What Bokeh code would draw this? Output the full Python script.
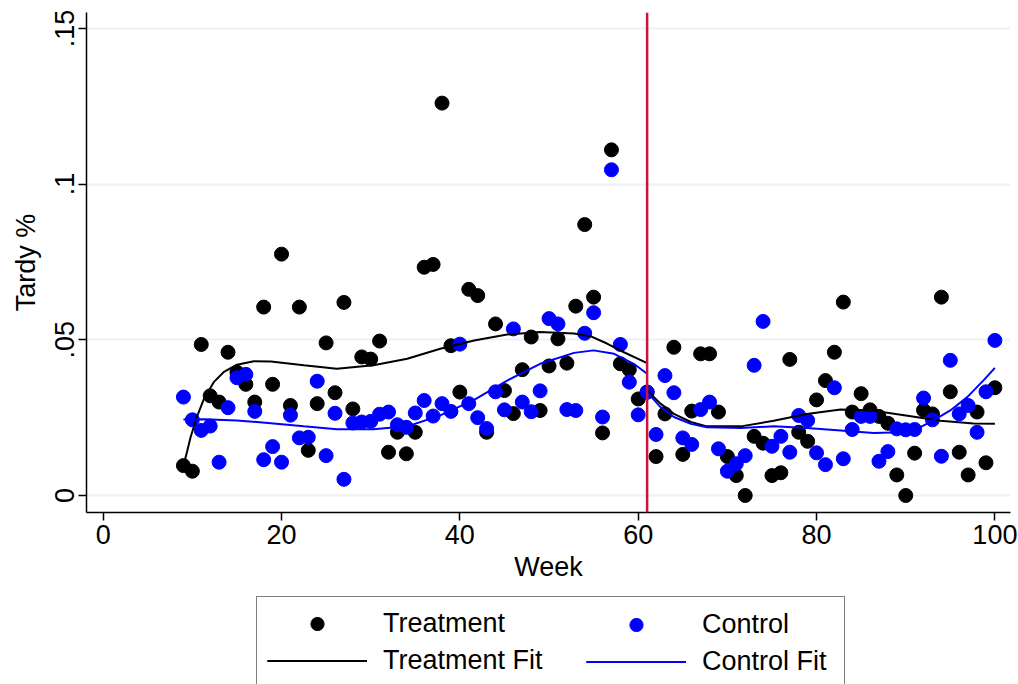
from bokeh.plotting import figure
from bokeh.layouts import column
from bokeh.models import Range1d, FixedTicker, Span, Legend, LegendItem
from bokeh.embed import file_html
from bokeh.resources import INLINE

# ---------------- data ----------------
weeks = list(range(9, 101))

treatment = [
    0.0096, 0.0078, 0.0485, 0.0320, 0.0300, 0.0460, 0.0396, 0.0357, 0.0300, 0.0605,  # 9-18
    0.0357, 0.0775, 0.0289, 0.0605, 0.0145, 0.0295, 0.0490, 0.0330, 0.0620, 0.0278,  # 19-28
    0.0445, 0.0438, 0.0496, 0.0139, 0.0203, 0.0134, 0.0203, 0.0733, 0.0742, 0.1260,  # 29-38
    0.0481, 0.0332, 0.0662, 0.0642, 0.0203, 0.0551, 0.0337, 0.0263, 0.0404, 0.0509,  # 39-48
    0.0273, 0.0416, 0.0503, 0.0425, 0.0608, 0.0870, 0.0637, 0.0201, 0.1110, 0.0423,  # 49-58
    0.0404, 0.0310, 0.0332, 0.0125, 0.0262, 0.0476, 0.0132, 0.0271, 0.0455, 0.0455,  # 59-68
    0.0268, 0.0125, 0.0064, 0.0000, 0.0190, 0.0168, 0.0064, 0.0073, 0.0437, 0.0203,  # 69-78
    0.0174, 0.0307, 0.0369, 0.0460, 0.0621, 0.0268, 0.0327, 0.0275, 0.0254, 0.0232,  # 79-88
    0.0066, 0.0000, 0.0136, 0.0274, 0.0262, 0.0637, 0.0333, 0.0139, 0.0066, 0.0268,  # 89-98
    0.0105, 0.0346,                                                                  # 99-100
]

control = [
    0.0316, 0.0243, 0.0209, 0.0223, 0.0107, 0.0282, 0.0378, 0.0389, 0.0270, 0.0115,  # 9-18
    0.0157, 0.0107, 0.0258, 0.0185, 0.0187, 0.0367, 0.0128, 0.0264, 0.0052, 0.0233,  # 19-28
    0.0236, 0.0238, 0.0261, 0.0268, 0.0227, 0.0219, 0.0265, 0.0305, 0.0255, 0.0295,  # 29-38
    0.0270, 0.0486, 0.0295, 0.0250, 0.0215, 0.0333, 0.0275, 0.0535, 0.0300, 0.0269,  # 39-48
    0.0336, 0.0568, 0.0551, 0.0276, 0.0273, 0.0521, 0.0587, 0.0252, 0.1046, 0.0485,  # 49-58
    0.0364, 0.0259, 0.0332, 0.0196, 0.0385, 0.0330, 0.0185, 0.0164, 0.0276, 0.0300,  # 59-68
    0.0150, 0.0078, 0.0102, 0.0128, 0.0418, 0.0559, 0.0158, 0.0190, 0.0139, 0.0257,  # 69-78
    0.0241, 0.0137, 0.0099, 0.0346, 0.0118, 0.0212, 0.0254, 0.0254, 0.0110, 0.0141,  # 79-88
    0.0214, 0.0211, 0.0212, 0.0313, 0.0243, 0.0126, 0.0434, 0.0262, 0.0289, 0.0203,  # 89-98
    0.0333, 0.0498,                                                                  # 99-100
]

# fitted curves, before and after the cut-off week
tf_pre_w = [9, 9.4, 9.8, 10.5, 11.3, 12.4, 13.5, 15, 16.9, 18.8, 22.5, 26.2, 30.3,
            34.1, 37.8, 41.6, 45.3, 49, 52.8, 54.7, 56.5, 58.4, 61]
tf_pre_v = [0.0096, 0.0140, 0.0187, 0.0252, 0.0310, 0.0364, 0.0396, 0.0420, 0.0431,
            0.0430, 0.0418, 0.0407, 0.0418, 0.0439, 0.0471, 0.0498, 0.0517, 0.0525,
            0.0520, 0.0511, 0.0488, 0.0460, 0.0425]
cf_pre_w = [9, 11.3, 15, 18.8, 22.5, 26.2, 30.3, 34.1, 37.8, 41.6, 45.3, 49, 52.8,
            55, 57.3, 59.5, 61]
cf_pre_v = [0.0244, 0.0245, 0.0241, 0.0232, 0.0222, 0.0213, 0.0213, 0.0222, 0.0257,
            0.0307, 0.0369, 0.0423, 0.0458, 0.0466, 0.0455, 0.0423, 0.0391]
tf_post_w = [61, 62.5, 64, 65.9, 67.7, 71.5, 75.2, 78.9, 82.7, 86.4, 90.2, 93.9, 97.6, 100]
tf_post_v = [0.0337, 0.0295, 0.0262, 0.0236, 0.0222, 0.0222, 0.0240, 0.0262, 0.0276,
             0.0272, 0.0256, 0.0240, 0.0231, 0.0230]
cf_post_w = [61, 62.5, 64, 65.9, 67.7, 71.5, 75.2, 78.9, 82.7, 86.4, 89.5, 91.6, 93.1,
             95, 96.9, 98.8, 100]
cf_post_v = [0.0332, 0.0284, 0.0252, 0.0230, 0.0219, 0.0217, 0.0222, 0.0217, 0.0209,
             0.0201, 0.0203, 0.0219, 0.0241, 0.0273, 0.0316, 0.0372, 0.0410]

cutoff_week = 61
x_ticks = [0, 20, 40, 60, 80, 100]
y_ticks = [0, 0.05, 0.1, 0.15]
y_tick_labels = ["0", ".05", ".1", ".15"]
labels = ["Treatment", "Control", "Treatment Fit", "Control Fit"]

# ---------------- styles ----------------
FONT = "Liberation Sans"
FS = "27px"
T_COLOR = "black"
C_COLOR = "blue"
MARKER_SIZE = 14
FIT_WIDTH = 2


def draw_series(fig):
    """Draw scatters and fits into a figure; returns the renderers."""
    rt = fig.scatter(weeks, treatment, size=MARKER_SIZE, color=T_COLOR)
    rc = fig.scatter(weeks, control, size=MARKER_SIZE, color=C_COLOR)
    rtf = [fig.line(tf_pre_w, tf_pre_v, line_color=T_COLOR, line_width=FIT_WIDTH),
           fig.line(tf_post_w, tf_post_v, line_color=T_COLOR, line_width=FIT_WIDTH)]
    rcf = [fig.line(cf_pre_w, cf_pre_v, line_color=C_COLOR, line_width=FIT_WIDTH),
           fig.line(cf_post_w, cf_post_v, line_color=C_COLOR, line_width=FIT_WIDTH)]
    return rt, rc, rtf, rcf


# ---------------- main plot ----------------
p = figure(width=1018, height=590, output_backend="svg", toolbar_location=None,
           x_range=Range1d(-1.87, 101.75), y_range=Range1d(-0.00546, 0.1551),
           min_border_left=86, min_border_right=8, min_border_top=12,
           min_border_bottom=78)
p.outline_line_color = None
p.xgrid.visible = False
p.ygrid.grid_line_color = "#EAF2F3"
p.ygrid.grid_line_width = 2

for ax in (p.xaxis[0], p.yaxis[0]):
    ax.axis_line_color = "black"
    ax.axis_line_width = 1.5
    ax.major_tick_line_color = "black"
    ax.major_tick_line_width = 1.5
    ax.major_tick_in = 0
    ax.major_tick_out = 8
    ax.minor_tick_line_color = None
    ax.major_label_text_font = FONT
    ax.major_label_text_font_size = FS
    ax.major_label_text_color = "black"
    ax.axis_label_text_font = FONT
    ax.axis_label_text_font_size = FS
    ax.axis_label_text_font_style = "normal"
    ax.axis_label_text_color = "black"

p.xaxis.ticker = FixedTicker(ticks=x_ticks)
p.xaxis.axis_label = "Week"
p.xaxis.major_label_standoff = 4
p.xaxis.axis_label_standoff = 5

p.yaxis.ticker = FixedTicker(ticks=y_ticks)
p.yaxis.major_label_overrides = dict(zip(y_ticks, y_tick_labels))
p.yaxis.major_label_orientation = "vertical"
p.yaxis.axis_label = "Tardy %"
p.yaxis.major_label_standoff = 4
p.yaxis.axis_label_standoff = 12

draw_series(p)
p.add_layout(Span(location=cutoff_week, dimension="height",
                  line_color="#C8143C", line_width=2.5))

# ---------------- legend strip (same series, viewed off-range) ----------------
lg_fig = figure(width=1018, height=94, output_backend="svg", toolbar_location=None,
                x_range=Range1d(1000, 1001), y_range=Range1d(1000, 1001),
                x_axis_location=None, y_axis_location=None,
                min_border=0)
lg_fig.outline_line_color = None
lg_fig.grid.visible = False
lt, lc, ltf, lcf = draw_series(lg_fig)


def make_legend(items, loc, border, label_width):
    lg = Legend(items=items, orientation="vertical", location=loc)
    lg.label_text_font = FONT
    lg.label_text_font_size = FS
    lg.label_text_color = "black"
    lg.glyph_width = 100
    lg.glyph_height = 33
    lg.label_standoff = 16
    lg.label_width = label_width
    lg.label_height = 33
    lg.spacing = 4
    lg.padding = 10
    lg.margin = 0
    lg.border_line_color = "black"
    lg.border_line_width = 1.5
    if border:
        lg.background_fill_color = "white"
        lg.background_fill_alpha = 1.0
    else:
        # invisible frame keeps the same padding as the framed column
        lg.border_line_alpha = 0.0
        lg.background_fill_alpha = 0.0
    return lg


legend_left = make_legend([
    LegendItem(label=labels[0], renderers=[lt]),
    LegendItem(label=labels[2], renderers=ltf),
], (170, -4), True, 451)
legend_right = make_legend([
    LegendItem(label=labels[1], renderers=[lc]),
    LegendItem(label=labels[3], renderers=lcf),
], (490, -4), False, 100)
lg_fig.add_layout(legend_left)
lg_fig.add_layout(legend_right)

layout = column(p, lg_fig, spacing=0)
open("out.html", "w").write(file_html(layout, INLINE))
